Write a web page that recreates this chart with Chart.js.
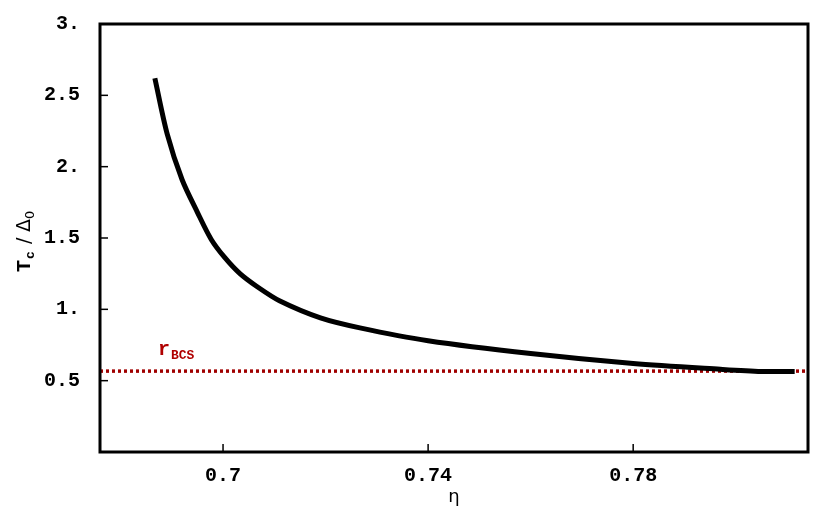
<!DOCTYPE html>
<html>
<head>
<meta charset="utf-8">
<script src="https://cdn.jsdelivr.net/npm/chart.js@4"></script>
<style>
  body { margin: 0; background: #fff; }
  #wrap { width: 822px; height: 508px; }
</style>
</head>
<body>
<div id="wrap"><canvas id="c"></canvas></div>
<script>
const etaValues = [0.6867, 0.6891, 0.692, 0.695, 0.6977, 0.7004, 0.7033, 0.7066, 0.711, 0.719, 0.7267, 0.74, 0.76, 0.78, 0.797, 0.805, 0.8115];
const ratioValues = [2.62, 2.23, 1.91, 1.68, 1.49, 1.36, 1.25, 1.16, 1.06, 0.94, 0.87, 0.78, 0.69, 0.62, 0.58, 0.565, 0.565];
const rBCS = 0.567;
const xTicks = [0.7, 0.74, 0.78];
const yTicks = [0.5, 1, 1.5, 2, 2.5, 3];
const yTickLabels = ["0.5", "1.", "1.5", "2.", "2.5", "3."];
const xRange = [0.676, 0.8141];

const FONT = "'Liberation Mono', 'DejaVu Sans Mono', monospace";

// frame, tick marks and labels with subscripts
const decorPlugin = {
  id: "decor",
  afterDraw(chart) {
    const { ctx, chartArea: a, scales: { x, y } } = chart;
    ctx.save();
    ctx.strokeStyle = "#000";
    ctx.lineWidth = 3;
    ctx.strokeRect(a.left, a.top, a.right - a.left, a.bottom - a.top);
    ctx.lineWidth = 1.5;
    xTicks.forEach(v => {
      const px = x.getPixelForValue(v);
      ctx.beginPath(); ctx.moveTo(px, a.bottom); ctx.lineTo(px, a.bottom - 8); ctx.stroke();
    });
    yTicks.forEach(v => {
      const py = y.getPixelForValue(v);
      ctx.beginPath(); ctx.moveTo(a.left, py); ctx.lineTo(a.left + 8, py); ctx.stroke();
    });
    // r_BCS label
    ctx.fillStyle = "#b00000";
    ctx.font = "bold 20px " + FONT;
    ctx.textBaseline = "alphabetic";
    ctx.fillText("r", 158, 355);
    ctx.font = "bold 13px " + FONT;
    ctx.fillText("BCS", 171, 359);
    // y axis title
    ctx.fillStyle = "#000";
    ctx.translate(30, 232);
    ctx.rotate(-Math.PI / 2);
    ctx.font = "bold 20px " + FONT;
    ctx.fillText("T", -40, 0);
    ctx.font = "bold 13px " + FONT;
    ctx.fillText("c", -27, 4);
    ctx.font = "19px 'DejaVu Sans'";
    ctx.fillText("/", -12, 0);
    ctx.fillText("\u0394", 0, 0);
    ctx.font = "13px 'DejaVu Sans'";
    ctx.fillText("0", 13, 4);
    ctx.restore();
  }
};

new Chart(document.getElementById("c"), {
  type: "line",
  data: {
    datasets: [
      {
        data: etaValues.map((e, i) => ({ x: e, y: ratioValues[i] })),
        borderColor: "#000",
        borderWidth: 5,
        pointRadius: 0,
        tension: 0.3,
        fill: false
      },
      {
        data: [{ x: xRange[0], y: rBCS }, { x: xRange[1], y: rBCS }],
        borderColor: "#a00000",
        borderWidth: 3.5,
        borderDash: [3, 3],
        pointRadius: 0,
        fill: false
      }
    ]
  },
  options: {
    responsive: true,
    maintainAspectRatio: false,
    animation: false,
    layout: { padding: { top: 3, right: 14, left: 0, bottom: 0 } },
    plugins: { legend: { display: false }, tooltip: { enabled: false } },
    scales: {
      x: {
        type: "linear",
        min: xRange[0],
        max: xRange[1],
        afterBuildTicks: s => { s.ticks = xTicks.map(v => ({ value: v })); },
        afterFit: s => { s.height = 56; },
        grid: { display: false },
        border: { display: false },
        ticks: {
          color: "#000",
          font: { family: FONT, size: 20, weight: "bold" },
          padding: 4,
          callback: v => String(v)
        },
        title: { display: true, text: "\u03b7", color: "#000", font: { family: "DejaVu Sans", size: 18 }, padding: 0 }
      },
      y: {
        min: 0,
        max: 3,
        afterBuildTicks: s => { s.ticks = yTicks.map(v => ({ value: v })); },
        afterFit: s => { s.width = 100; },
        grid: { display: false },
        border: { display: false },
        ticks: {
          color: "#000",
          font: { family: FONT, size: 20, weight: "bold" },
          padding: 12,
          callback: v => yTickLabels[yTicks.indexOf(v)]
        }
      }
    }
  },
  plugins: [decorPlugin]
});
</script>
</body>
</html>
